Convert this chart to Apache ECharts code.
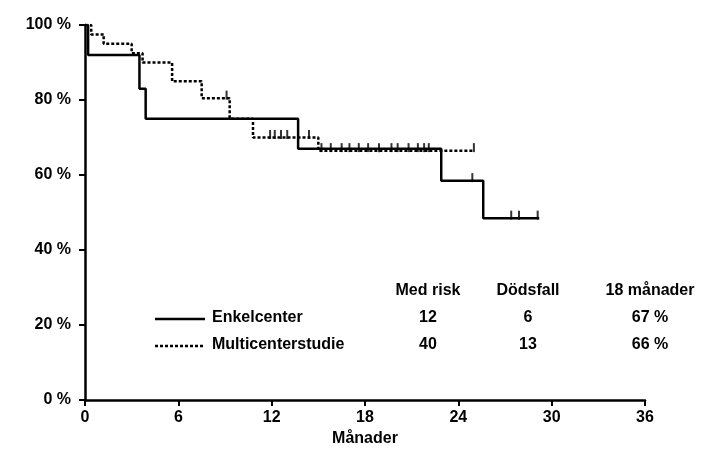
<!DOCTYPE html>
<html>
<head>
<meta charset="utf-8">
<script src="https://cdn.jsdelivr.net/npm/echarts@6/dist/echarts.min.js"></script>
<style>html,body{margin:0;padding:0;background:#fff}#chart{width:724px;height:469px}</style>
</head>
<body>
<div id="chart"></div>
<script>
  // Kaplan-Meier steps: [months, survival %]
  const enkelSteps = [[0, 100], [0.2, 92], [3.5, 83], [3.9, 75], [13.7, 67], [22.9, 58.5], [25.6, 48.5], [29.2, 48.5]];
  const multiSteps = [[0, 100], [0.4, 97.5], [1.2, 95], [3.0, 92.5], [3.7, 90], [5.6, 85], [7.5, 80.5], [9.3, 75], [10.8, 70], [15.0, 66.5], [25.0, 66.5]];
  const enkelCensor = [[24.9, 58.5], [27.4, 48.5], [27.9, 48.5], [29.1, 48.5]];
  const multiCensor = [[9.1, 80.5], [11.9, 70], [12.2, 70], [12.6, 70], [13.0, 70], [14.4, 70], [15.2, 66.5], [15.8, 66.5], [16.5, 66.5],
    [17.0, 66.5], [17.6, 66.5], [18.2, 66.5], [18.9, 66.5], [19.7, 66.5], [20.1, 66.5], [20.8, 66.5], [21.4, 66.5], [21.8, 66.5], [22.1, 66.5], [25.0, 66.5]];
  const xTicks = [0, 6, 12, 18, 24, 30, 36];
  const tableHead = ['Med risk', 'Dödsfall', '18 månader'];
  const tableRows = [['Enkelcenter', '12', '6', '67 %'], ['Multicenterstudie', '40', '13', '66 %']];

  const font = 'Liberation Sans, Arial, sans-serif';
  const chart = echarts.init(document.getElementById('chart'));
  const txt = (x, y, s, align) => ({ type: 'text', left: x, top: y,
    style: { text: s, font: 'bold 16px ' + font, fill: '#000', textAlign: align || 'left' } });
  const graphic = [];
  const colX = [428, 528, 650];
  tableHead.forEach((h, i) => graphic.push({ type: 'text', x: colX[i], y: 283,
    style: { text: h, font: 'bold 16px ' + font, fill: '#000', textAlign: 'center' } }));
  tableRows.forEach((r, j) => {
    const y = 310 + j * 27;
    graphic.push({ type: 'text', x: 212, y: y, style: { text: r[0], font: 'bold 16px ' + font, fill: '#000' } });
    for (let i = 1; i < 4; i++) graphic.push({ type: 'text', x: colX[i - 1], y: y,
      style: { text: r[i], font: 'bold 16px ' + font, fill: '#000', textAlign: 'center' } });
    graphic.push({ type: 'line', shape: { x1: 155, y1: y + 9, x2: 205, y2: y + 9 },
      style: { stroke: '#000', lineWidth: 2.5, lineDash: j ? [3, 2] : null } });
  });

  chart.setOption({
    animation: false,
    grid: { left: 85, right: 79, top: 25, bottom: 69 },
    graphic: graphic,
    xAxis: {
      type: 'value', min: 0, max: 36, interval: 6,
      name: 'Månader', nameLocation: 'middle', nameGap: 28,
      nameTextStyle: { fontFamily: font, fontWeight: 'bold', fontSize: 16, color: '#000' },
      axisLine: { onZero: false, lineStyle: { color: '#000', width: 2.5 } },
      axisTick: { inside: false, length: 6, lineStyle: { color: '#000', width: 2 } },
      axisLabel: { fontFamily: font, fontWeight: 'bold', fontSize: 16, color: '#000', margin: 10,
        formatter: v => xTicks.includes(v) ? String(v) : '' },
      splitLine: { show: false }
    },
    yAxis: {
      type: 'value', min: 0, max: 100, interval: 20,
      axisLine: { show: true, lineStyle: { color: '#000', width: 2.5 } },
      axisTick: { show: true, length: 6, lineStyle: { color: '#000', width: 2 } },
      axisLabel: { fontFamily: font, fontWeight: 'bold', fontSize: 16, color: '#000', margin: 14, formatter: '{value} %' },
      splitLine: { show: false }
    },
    series: [
      { type: 'line', step: 'end', data: enkelSteps, symbol: 'none', lineStyle: { color: '#000', width: 2.5 } },
      { type: 'line', step: 'end', data: multiSteps, symbol: 'none', lineStyle: { color: '#000', width: 2.5, type: [3, 2] } },
      { type: 'scatter', data: enkelCensor.concat(multiCensor), symbol: 'rect', symbolSize: [2, 9],
        symbolOffset: [0, -3], itemStyle: { color: '#000' } }
    ]
  });
</script>
</body>
</html>
